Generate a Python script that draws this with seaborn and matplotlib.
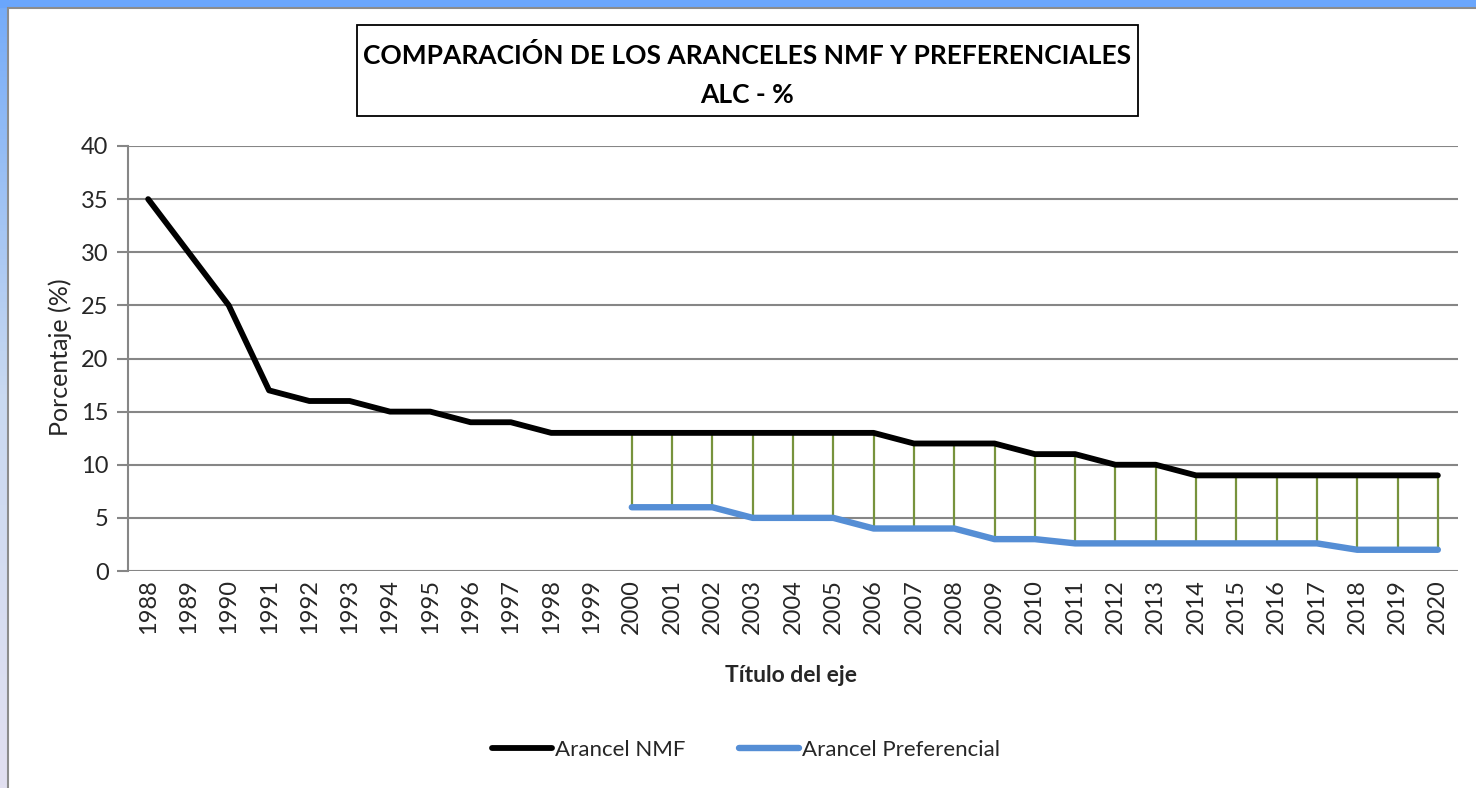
import numpy as np
import pandas as pd
import matplotlib
matplotlib.use("Agg")
import matplotlib.pyplot as plt
import seaborn as sns
from matplotlib.patches import Rectangle
from matplotlib.colors import LinearSegmentedColormap

years = [str(y) for y in range(1988, 2021)]
nmf = [35, 30, 25, 17, 16, 16, 15, 15, 14, 14, 13, 13, 13, 13, 13, 13, 13, 13, 13,
       12, 12, 12, 11, 11, 10, 10, 9, 9, 9, 9, 9, 9, 9]
pref_years = [str(y) for y in range(2000, 2021)]
pref = [6, 6, 6, 5, 5, 5, 4, 4, 4, 3, 3, 2.6, 2.6, 2.6, 2.6, 2.6, 2.6, 2.6, 2, 2, 2]
yticks = [0, 5, 10, 15, 20, 25, 30, 35, 40]

sns.set_theme(style="white")
FONT = ["Lato", "DejaVu Sans"]
plt.rcParams["font.family"] = FONT

W, H = 1476, 788
fig = plt.figure(figsize=(W / 100, H / 100), dpi=100)

# background frame: blue bands top and left
bg = fig.add_axes([0, 0, 1, 1], zorder=-10)
bg.axis("off")
grad = np.linspace(0, 1, 256).reshape(-1, 1)
cm = LinearSegmentedColormap.from_list("b", ["#74abf8", "#c9d9f0", "#e2e0f0"])
bg.imshow(grad, cmap=cm, extent=[0, 8, H, 0], aspect="auto")
bg.add_patch(Rectangle((0, 0), W, 8, color="#6aa6fc", lw=0))
bg.add_patch(Rectangle((8, 8), W, H, facecolor="white", edgecolor="#8c8c8c", lw=1.5))
bg.set_xlim(0, W); bg.set_ylim(H, 0)

# title box
bg.add_patch(Rectangle((357, 25), 781, 91, facecolor="white", edgecolor="black", lw=1.3))
bg.text(747.5, 55, "COMPARACIÓN DE LOS ARANCELES NMF Y PREFERENCIALES", ha="center", va="center",
        fontsize=19, fontweight="bold", color="black")
bg.text(747.5, 95, "ALC - %", ha="center", va="center", fontsize=19, fontweight="bold", color="black")

ax = fig.add_axes([128 / W, (H - 571) / H, (1458 - 128) / W, (571 - 146) / H])
ax.set_facecolor("none")

df_nmf = pd.DataFrame({"pos": np.arange(len(years)), "val": nmf, "serie": "Arancel NMF"})
idx = [years.index(y) for y in pref_years]
df_pref = pd.DataFrame({"pos": idx, "val": pref, "serie": "Arancel Preferencial"})

# drop lines
nmf_at = [nmf[i] for i in idx]
ax.vlines(idx, pref, nmf_at, colors="#77933c", lw=1.6, zorder=2)

sns.lineplot(data=df_nmf, x="pos", y="val", color="black", lw=4.2, ax=ax,
             label="Arancel NMF", zorder=3, solid_capstyle="round")
sns.lineplot(data=df_pref, x="pos", y="val", color="#558ed5", lw=4.6, ax=ax,
             label="Arancel Preferencial", zorder=3, solid_capstyle="round")

ax.set_xlim(-0.5, len(years) - 0.5)
ax.set_ylim(0, 40)
ax.set_yticks(yticks)
ax.set_yticklabels([str(t) for t in yticks], fontsize=17)
ax.set_xticks(np.arange(len(years)))
ax.set_xticklabels(years, rotation=90, fontsize=17)
ax.tick_params(axis="x", length=0, pad=6)
ax.tick_params(axis="y", length=8, width=1.5, color="#868686", direction="out", pad=6, left=True)
ax.grid(axis="y", color="#868686", lw=1.5)
ax.grid(axis="x", visible=False)
for s in ["top", "right", "bottom"]:
    ax.spines[s].set_visible(False)
ax.spines["left"].set_color("#868686")
ax.spines["left"].set_linewidth(1.5)
ax.set_xlabel("")
ax.set_ylabel("")

fig.text(60 / W, 1 - 357 / H, "Porcentaje (%)", rotation=90, ha="center", va="center", fontsize=18)
fig.text(791 / W, 1 - 676 / H, "Título del eje", ha="center", va="center", fontsize=16.5, fontweight="bold")

ax.legend(loc="center", bbox_to_anchor=(746 / W, 1 - 750 / H), bbox_transform=fig.transFigure,
          ncol=2, frameon=False, fontsize=16, handlelength=2.7, handletextpad=0.15, columnspacing=2.4)

fig.savefig("out.png", dpi=100)
